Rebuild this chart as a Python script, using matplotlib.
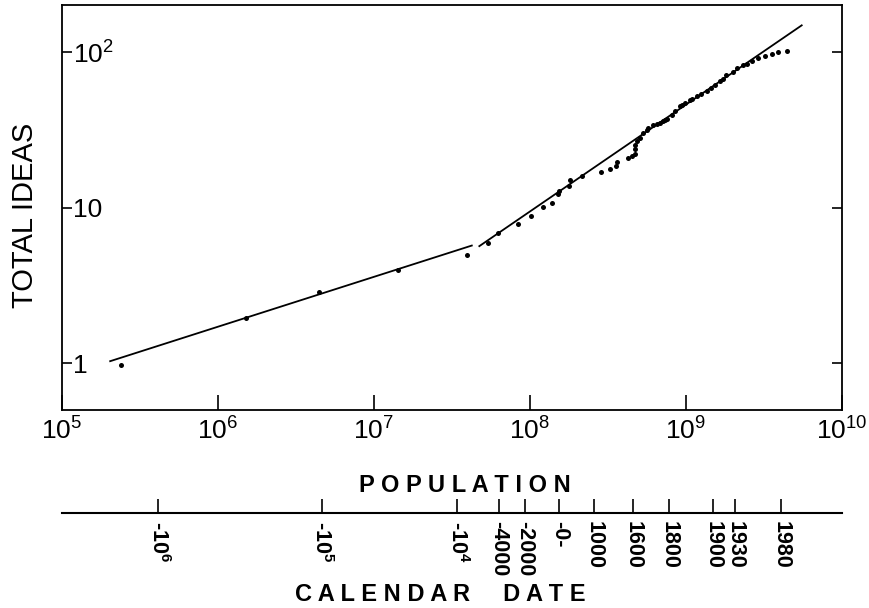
import matplotlib
matplotlib.use('Agg')
import matplotlib.pyplot as plt
from matplotlib.ticker import NullLocator

plt.rcParams['font.family'] = ['Liberation Sans', 'DejaVu Sans']
plt.rcParams['mathtext.fontset'] = 'custom'
plt.rcParams['mathtext.rm'] = 'Liberation Sans'
plt.rcParams['mathtext.it'] = 'Liberation Sans:italic'
plt.rcParams['mathtext.bf'] = 'Liberation Sans:bold'

# ---- data ----
population = [2.41e5, 1.53e6, 4.49e6, 1.44e7, 3.98e7, 5.42e7, 6.22e7, 8.43e7,
              1.02e8, 1.22e8, 1.38e8, 1.51e8, 1.54e8, 1.78e8, 1.80e8, 2.15e8,
              2.85e8, 3.26e8, 3.55e8, 3.60e8, 4.27e8, 4.50e8, 4.72e8, 4.72e8,
              4.72e8, 4.84e8, 5.08e8, 5.33e8, 5.61e8, 5.74e8, 6.18e8, 6.50e8,
              6.83e8, 7.16e8, 7.35e8, 7.53e8, 8.11e8, 8.51e8, 9.16e8, 9.40e8,
              9.87e8, 1.06e9, 1.09e9, 1.17e9, 1.25e9, 1.36e9, 1.45e9, 1.53e9,
              1.65e9, 1.74e9, 1.82e9, 2.01e9, 2.11e9, 2.33e9, 2.45e9, 2.64e9,
              2.91e9, 3.21e9, 3.55e9, 3.91e9, 4.43e9]
total_ideas = [0.98, 1.96, 2.86, 4.0, 5.0, 5.89, 6.89, 7.91,
               8.82, 10.1, 10.7, 12.2, 12.9, 13.7, 15.0, 15.9,
               16.9, 17.8, 18.5, 19.7, 20.9, 21.4, 22.2, 23.7,
               25.5, 26.8, 28.1, 30.2, 31.5, 32.6, 34.3, 34.6,
               35.1, 36.0, 36.9, 37.2, 39.7, 41.8, 45.0, 46.1,
               47.2, 49.6, 49.9, 52.1, 53.5, 56.1, 58.5, 62.0,
               65.1, 67.0, 71.9, 75.0, 79.2, 83.4, 84.5, 87.5,
               91.9, 94.2, 97.5, 100.4, 102.5]

fit1_population = [2.05e5, 4.25e7]
fit1_ideas = [1.03, 5.71]
fit2_population = [4.75e7, 5.52e9]
fit2_ideas = [5.66, 149.0]

x_ticks = [1e5, 1e6, 1e7, 1e8, 1e9, 1e10]
x_tick_labels = [r'$10^{5}$', r'$10^{6}$', r'$10^{7}$', r'$10^{8}$', r'$10^{9}$', r'$10^{10}$']
y_ticks = [1, 10, 100]
y_tick_labels = ['1', '10', r'$10^{2}$']

date_labels = [r'-$\mathbf{10^{6}}$', r'-$\mathbf{10^{5}}$', r'-$\mathbf{10^{4}}$',
               '-4000', '-2000', '-0-', '1000', '1600', '1800', '1900', '1930', '1980']
date_population = [4.17e5, 4.64e6, 3.43e7, 6.35e7, 9.32e7, 1.545e8, 2.58e8,
                   4.56e8, 7.83e8, 1.50e9, 2.07e9, 4.05e9]

# ---- figure ----
fig = plt.figure(figsize=(8.7, 6.08), dpi=100)
ax = fig.add_axes([0.0707, 0.3257, 0.8971, 0.6653])
ax.set_xscale('log')
ax.set_yscale('log')
ax.plot(fit1_population, fit1_ideas, color='black', lw=1.3)
ax.plot(fit2_population, fit2_ideas, color='black', lw=1.3)
ax.plot(population, total_ideas, 'o', color='black', ms=3.6, mec='black', mew=0)
ax.set_xlim(1e5, 1e10)
ax.set_ylim(0.5, 200)

ax.set_xticks(x_ticks, labels=x_tick_labels)
ax.set_yticks(y_ticks, labels=y_tick_labels)
ax.xaxis.set_minor_locator(NullLocator())
ax.yaxis.set_minor_locator(NullLocator())
for sp in ax.spines.values():
    sp.set_linewidth(1.3)
ax.tick_params(axis='x', direction='in', length=11, width=1.2, pad=5,
               labelsize=19, top=False)
ax.tick_params(axis='y', direction='in', length=7, width=1.2, pad=-8,
               labelsize=19, left=True, right=True)
for t in ax.get_yticklabels():
    t.set_horizontalalignment('left')

# calendar-date axis aligned with population scale
ax2 = fig.add_axes([0.0707, 0.1567, 0.8971, 0.0001])
ax2.set_xscale('log')
ax2.set_xlim(1e5, 1e10)
ax2.patch.set_visible(False)
for s in ['top', 'left', 'right']:
    ax2.spines[s].set_visible(False)
ax2.spines['bottom'].set_linewidth(1.5)
ax2.set_yticks([])
ax2.set_xticks(date_population, labels=date_labels)
ax2.xaxis.set_minor_locator(NullLocator())
ax2.tick_params(axis='x', direction='in', length=10, width=1.2, pad=6,
               labelsize=15.5)
for t in ax2.get_xticklabels():
    t.set_rotation(-90)
    t.set_fontweight('bold')

fig.text(25.5 / 870, 1 - 215 / 608, 'TOTAL IDEAS', rotation=90,
         ha='center', va='center', fontsize=21)
fig.text(465 / 870, 1 - 492 / 608, 'P O P U L A T I O N', ha='center',
         va='baseline', fontsize=17, fontweight='bold')
fig.text(440 / 870, 1 - 601 / 608, 'C A L E N D A R     D A T E', ha='center',
         va='baseline', fontsize=17, fontweight='bold')

fig.savefig('out.png', dpi=100)
